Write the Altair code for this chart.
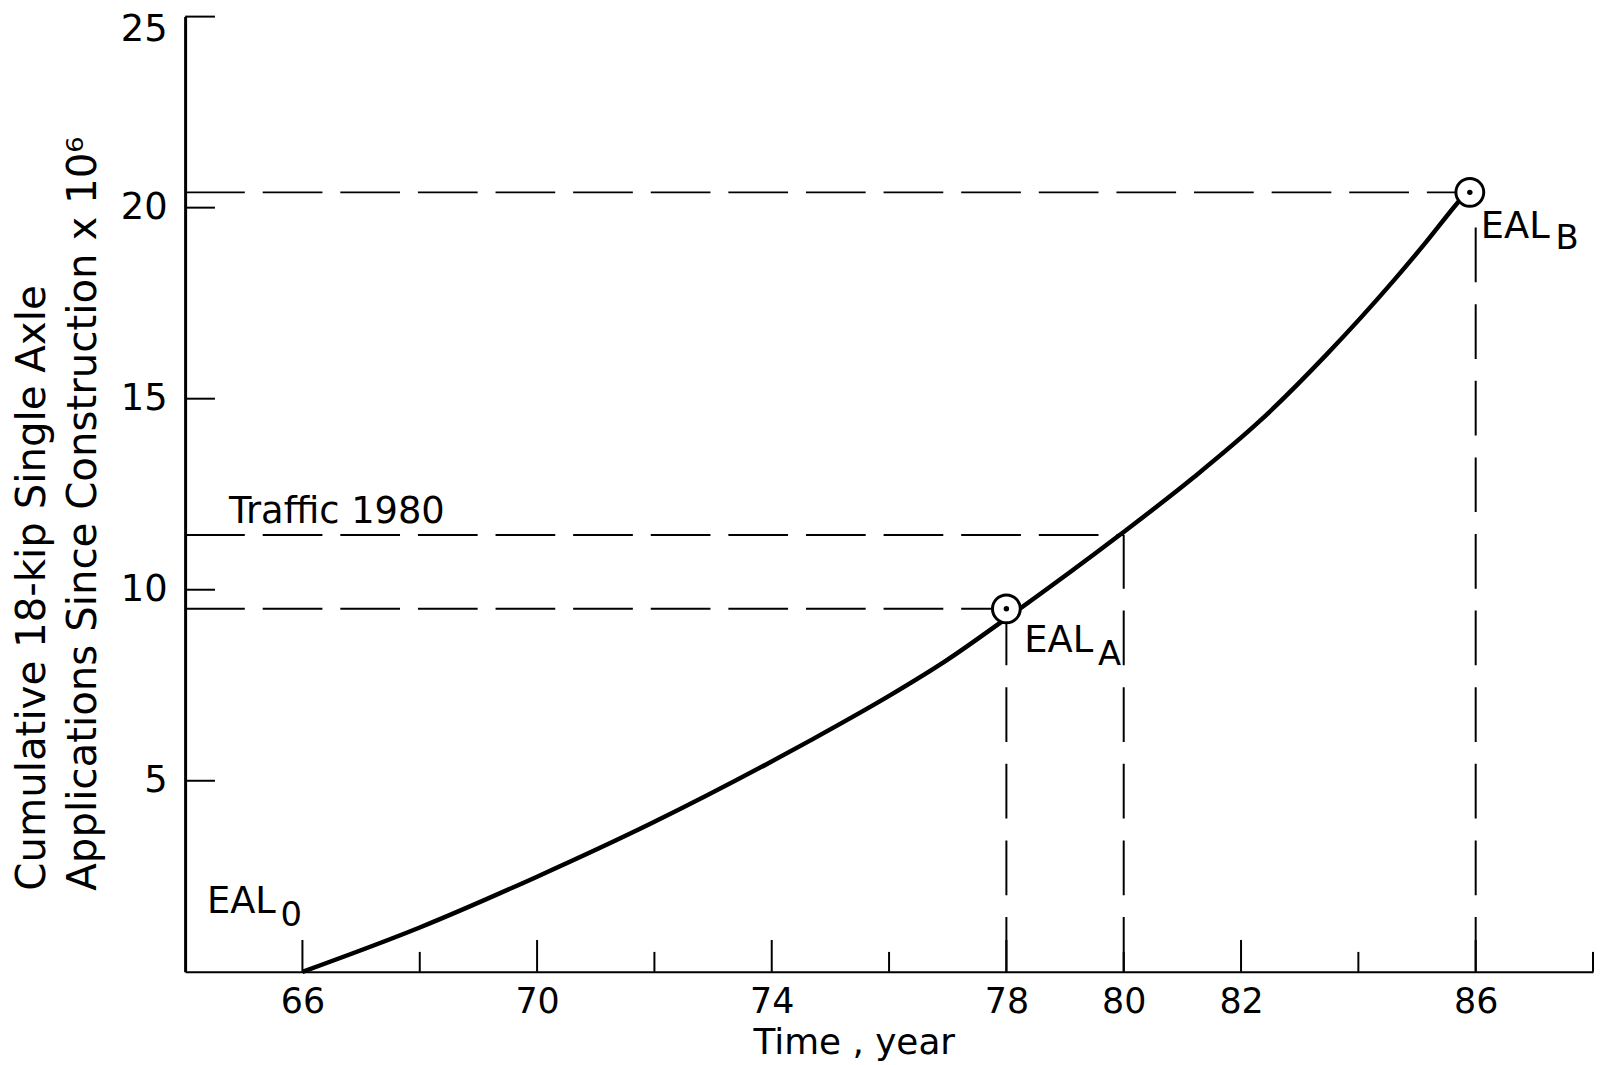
import altair as alt
import pandas as pd

# ---- data ----
YEARS = [66.0, 68.0, 70.0, 71.94, 73.92, 74.7, 76.0, 76.96, 78.0, 79.93, 81.2, 82.33, 83.46, 84.59, 85.16, 85.66, 85.87]
EAL = [0.0, 1.16, 2.49, 3.88, 5.44, 6.09, 7.22, 8.13, 9.25, 11.43, 12.95, 14.43, 16.16, 18.07, 19.11, 20.07, 20.45]

PT_NAME = ["A", "B"]
PT_YEAR = [78.0, 85.9]
PT_EAL = [9.5, 20.4]

TRAFFIC_YEAR = 80.0
TRAFFIC_EAL = 11.43
B_DROP_YEAR = 86.0

X_DOMAIN = [64, 88]
Y_DOMAIN = [0, 25]
X_LABELS = [66, 70, 74, 78, 80, 82, 86]
X_MAJOR = [66, 70, 74, 78, 82, 86]
X_MINOR = [68, 72, 76, 80, 84, 88]
Y_TICKS = [5, 10, 15, 20, 25]

X_TITLE = "Time , year"
Y_TITLE = ["Cumulative 18-kip Single Axle", "Applications Since Construction x 10\u2076"]

FONT = "DejaVu Sans"
W, H = 1415, 960

curve = pd.DataFrame({"x": YEARS, "y": EAL})
pts = pd.DataFrame({"name": PT_NAME, "x": PT_YEAR, "y": PT_EAL})
hlines = pd.DataFrame({
    "x": [X_DOMAIN[0]] * 3,
    "x2": [PT_YEAR[0], TRAFFIC_YEAR, PT_YEAR[1]],
    "y": [PT_EAL[0], TRAFFIC_EAL, PT_EAL[1]],
})
vlines = pd.DataFrame({
    "x": [PT_YEAR[0], TRAFFIC_YEAR, B_DROP_YEAR],
    "y": [Y_DOMAIN[0]] * 3,
    "y2": [PT_EAL[0], TRAFFIC_EAL, PT_EAL[1]],
})
xmaj = pd.DataFrame({"x": X_MAJOR})
xmin = pd.DataFrame({"x": X_MINOR})
yt = pd.DataFrame({"y": Y_TICKS})
origin = pd.DataFrame({"x": [YEARS[0]], "y": [EAL[0]]})
ptA = pts[pts["name"] == "A"]
ptB = pts[pts["name"] == "B"]
traffic = pd.DataFrame({"x": [X_DOMAIN[0]], "y": [TRAFFIC_EAL]})

xs = alt.Scale(domain=X_DOMAIN, nice=False, zero=False)
ys = alt.Scale(domain=Y_DOMAIN, nice=False, zero=False)

x_axis = alt.Axis(
    values=X_LABELS, ticks=False, grid=False, domainColor="black", domainWidth=2,
    labelFont=FONT, labelFontSize=35, labelColor="black", labelPadding=13,
    labelBaseline="top", labelFlush=False,
    title=X_TITLE, titleFont=FONT, titleFontSize=36, titleFontWeight="normal",
    titleColor="black", titleX=672, titleY=82, titleAlign="center",
    titleBaseline="alphabetic", titleAnchor="start",
)
y_axis = alt.Axis(
    values=Y_TICKS, ticks=False, grid=False, domainColor="black", domainWidth=3,
    labelFont=FONT, labelFontSize=37, labelColor="black", labelPadding=18,
    labelFlush=True, labelFlushOffset=5,
    title=Y_TITLE, titleFont=FONT, titleFontSize=40.5, titleFontWeight="normal",
    titleColor="black", titleAngle=270, titleAlign="left", titleBaseline="top",
    titleX=-173, titleY=878, titleLineHeight=51, titleAnchor="start",
)


def X(f="x"):
    return alt.X(f + ":Q", scale=xs, axis=x_axis)


def Y(f="y"):
    return alt.Y(f + ":Q", scale=ys, axis=y_axis)


line = alt.Chart(curve).mark_line(color="black", strokeWidth=4.5, interpolate="monotone").encode(
    x=X(), y=Y())

h_dash = alt.Chart(hlines).mark_rule(color="black", strokeWidth=2, strokeDash=[60, 18]).encode(
    x=X(), x2="x2:Q", y=Y())
v_dash = alt.Chart(vlines).mark_rule(color="black", strokeWidth=2, strokeDash=[55, 22]).encode(
    x=X(), y=Y(), y2="y2:Q")

maj_ticks = alt.Chart(xmaj).mark_rule(color="black", strokeWidth=2).encode(
    x=X(), y=alt.value(H), y2=alt.value(H - 32))
min_ticks = alt.Chart(xmin).mark_rule(color="black", strokeWidth=2).encode(
    x=X(), y=alt.value(H), y2=alt.value(H - 20))
y_ticks = alt.Chart(yt).mark_rule(color="black", strokeWidth=2).encode(
    y=Y(), x=alt.value(0), x2=alt.value(30))

rings = alt.Chart(pts).mark_point(
    shape="circle", filled=True, fill="white", stroke="black", strokeWidth=3,
    size=784, opacity=1).encode(x=X(), y=Y())
dots = alt.Chart(pts).mark_point(
    shape="circle", filled=True, fill="black", size=30, opacity=1).encode(x=X(), y=Y())


def label(df, text, dx, dy, size):
    return alt.Chart(df).mark_text(
        text=text, font=FONT, fontSize=size, color="black", align="left",
        baseline="alphabetic", dx=dx, dy=dy).encode(x=X(), y=Y())


lab0 = label(origin, "EAL", -96, -59, 37)
sub0 = label(origin, "0", -22, -46, 34)
labA = label(ptA, "EAL", 18, 43, 37)
subA = label(ptA, "A", 92, 56, 34)
labB = label(ptB, "EAL", 11, 46, 37)
subB = label(ptB, "B", 86, 57, 34)
lab_t = label(traffic, "Traffic 1980", 44, -12, 37)

chart = alt.layer(
    line, h_dash, v_dash, maj_ticks, min_ticks, y_ticks, rings, dots,
    lab0, sub0, labA, subA, labB, subB, lab_t,
).properties(
    width=W, height=H,
    padding={"left": 178, "top": 6, "right": 3, "bottom": 90},
    autosize=alt.AutoSizeParams(type="none"),
    background="white",
).configure_view(stroke=None)

chart.save("out.html", embed_options={"renderer": "svg", "actions": False})
